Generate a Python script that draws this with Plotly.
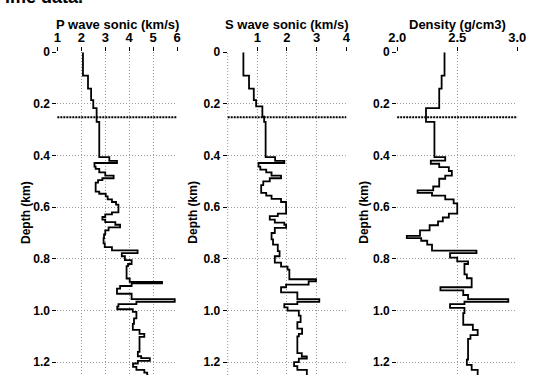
import plotly.graph_objects as go

# ---------------- data ----------------
p_depth = [0, 0.091, 0.141, 0.186, 0.217, 0.27, 0.406, 0.421, 0.429, 0.443, 0.452, 0.465, 0.478,
           0.488, 0.495, 0.505, 0.54, 0.548, 0.558, 0.57, 0.58, 0.59, 0.62, 0.628, 0.638, 0.648,
           0.658, 0.668, 0.678, 0.69, 0.705, 0.72, 0.74, 0.755, 0.767, 0.778, 0.79, 0.805, 0.82,
           0.828, 0.876, 0.889, 0.895, 0.905, 0.915, 0.935, 0.956, 0.966, 0.975, 0.985, 0.995,
           1.005, 1.03, 1.052, 1.075, 1.09, 1.102, 1.16, 1.177, 1.184, 1.195, 1.205, 1.218,
           1.23, 1.24, 1.25]
p_vel = [2.07, 2.28, 2.41, 2.5, 2.64, 2.75, 3.17, 3.49, 2.55, 2.6, 2.75, 3.0, 3.35,
         2.88, 2.7, 2.6, 2.75, 3.02, 3.1, 3.28, 3.45, 3.55, 3.28, 3.0, 2.88, 3.0,
         3.42, 3.62, 3.14, 3.0, 2.95, 2.93, 2.98, 3.28, 4.35, 3.69, 3.82, 4.1, 3.95,
         3.89, 4.02, 5.37, 4.1, 3.62, 3.49, 4.1, 5.9, 4.3, 3.55, 3.5, 4.15,
         4.3, 4.2, 4.15, 4.43, 4.63, 4.43, 4.36, 4.5, 4.86, 4.36, 4.16, 4.3,
         4.63, 4.75, 4.8]

s_depth = [0, 0.091, 0.141, 0.186, 0.21, 0.25, 0.27, 0.406, 0.421, 0.429, 0.443, 0.455, 0.465,
           0.478, 0.488, 0.5, 0.515, 0.545, 0.555, 0.568, 0.58, 0.625, 0.635, 0.648, 0.66,
           0.668, 0.68, 0.7, 0.725, 0.745, 0.77, 0.79, 0.815, 0.83, 0.842, 0.879, 0.887,
           0.9, 0.91, 0.93, 0.956, 0.966, 0.975, 0.988, 1.0, 1.02, 1.045, 1.07, 1.09, 1.1,
           1.165, 1.178, 1.186, 1.2, 1.215, 1.23, 1.25]
s_vel = [0.53, 0.72, 0.88, 0.96, 1.17, 1.23, 1.28, 1.6, 1.91, 1.04, 1.1, 1.3, 1.48,
         1.8, 1.42, 1.2, 1.13, 1.3, 1.48, 1.8, 1.97, 1.69, 1.42, 1.59, 1.91,
         1.97, 1.59, 1.48, 1.53, 1.69, 1.75, 1.59, 1.8, 2.02, 2.08, 2.98, 2.73,
         1.97, 1.8, 2.35, 3.09, 2.35, 1.91, 2.02, 2.4, 2.46, 2.35, 2.51, 2.4, 2.35,
         2.5, 2.67, 2.4, 2.24, 2.35, 2.67, 2.67]

d_depth = [0, 0.091, 0.141, 0.217, 0.27, 0.406, 0.42, 0.432, 0.445, 0.46, 0.478, 0.49, 0.52,
           0.535, 0.545, 0.555, 0.57, 0.585, 0.625, 0.64, 0.655, 0.67, 0.69, 0.711, 0.72,
           0.73, 0.745, 0.768, 0.778, 0.795, 0.81, 0.82, 0.86, 0.875, 0.91, 0.922, 0.94,
           0.956, 0.966, 0.975, 0.99, 1.01, 1.055, 1.075, 1.095, 1.11, 1.19, 1.21, 1.23, 1.25]
d_rho = [2.394, 2.37, 2.35, 2.24, 2.31, 2.4, 2.28, 2.35, 2.43, 2.455, 2.4, 2.35, 2.3,
         2.17, 2.29, 2.4, 2.47, 2.5, 2.43, 2.38, 2.34, 2.27, 2.19, 2.08, 2.2,
         2.25, 2.29, 2.66, 2.44, 2.5, 2.59, 2.56, 2.58, 2.62, 2.36, 2.55, 2.59,
         2.925, 2.56, 2.44, 2.56, 2.55, 2.63, 2.67, 2.61, 2.59, 2.58, 2.62, 2.67, 2.67]

p_ticks = [1, 2, 3, 4, 5, 6]
p_ticklabels = ["1", "2", "3", "4", "5", "6"]
s_ticks = [1, 2, 3, 4]
s_ticklabels = ["1", "2", "3", "4"]
d_ticks = [2.0, 2.5, 3.0]
d_ticklabels = ["2.0", "2.5", "3.0"]
depth_ticks = [0, 0.2, 0.4, 0.6, 0.8, 1.0, 1.2]
depth_ticklabels = ["0", "0.2", "0.4", "0.6", "0.8", "1.0", "1.2"]
marker_depth = 0.252

titles = ["P wave sonic (km/s)", "S wave sonic (km/s)", "Density (g/cm3)"]
ytitle = "Depth (km)"
top_title = "ime data."

# ---------------- figure ----------------
W, H = 535, 375
FONT = "Liberation Sans, Arial, sans-serif"
GRID = "#9a9a9a"
PX_PER_KM = 263.3
TOP = 46
fig = go.Figure()


def bold(lst):
    return [f"<b>{t}</b>" for t in lst]


def fx(px):
    return px / W


def fy(py):
    return 1 - py / H


series = [(p_vel, p_depth), (s_vel, s_depth), (d_rho, d_depth)]
xdomains = [(fx(50), fx(174)), (fx(226.3), fx(349)), (fx(401.7), fx(526))]
xranges = [[1, 6], [0, 4], [2, 3]]
ydom = [0, 1 - TOP / H]
ybottom = (H - TOP) / PX_PER_KM

for i, (xv, yv) in enumerate(series):
    n = "" if i == 0 else str(i + 1)
    fig.add_trace(go.Scatter(x=xv, y=yv, mode="lines",
                             line=dict(color="black", width=1.8, shape="vh"),
                             xaxis="x" + n, yaxis="y" + n, showlegend=False, hoverinfo="skip"))

common_x = dict(side="top", showline=False, zeroline=False, showgrid=True, gridcolor=GRID,
                griddash="1px,2px", gridwidth=1, ticks="outside", ticklen=4, tickcolor="black",
                tickmode="array",
                tickfont=dict(family=FONT, size=13, color="black"))
common_y = dict(autorange=False, range=[ybottom, 0], domain=ydom, showline=False, zeroline=False,
                showgrid=True, gridcolor=GRID, griddash="1px,2px", gridwidth=1,
                ticks="outside", ticklen=4, tickcolor="black", tickmode="array",
                tickvals=depth_ticks, ticktext=bold(depth_ticklabels),
                tickfont=dict(family=FONT, size=12, color="black"))

fig.update_layout(
    xaxis=dict(common_x, domain=xdomains[0], range=xranges[0], tickvals=p_ticks,
               ticktext=bold(p_ticklabels), anchor="y"),
    xaxis2=dict(common_x, domain=xdomains[1], range=xranges[1], tickvals=s_ticks,
                ticktext=bold(s_ticklabels), anchor="y2"),
    xaxis3=dict(common_x, domain=xdomains[2], range=xranges[2], tickvals=d_ticks,
                ticktext=bold(d_ticklabels), anchor="y3"),
    yaxis=dict(common_y, anchor="x"),
    yaxis2=dict(common_y, anchor="x2"),
    yaxis3=dict(common_y, anchor="x3"),
)

for i in range(3):
    n = "" if i == 0 else str(i + 1)
    fig.add_shape(type="line", xref=f"x{n} domain", yref="y" + n, x0=0, x1=1,
                  y0=marker_depth, y1=marker_depth,
                  line=dict(color="black", width=2, dash="2px,1px"))
# left edge grid of the S panel (0 is not a labelled tick)
fig.add_shape(type="line", xref="x2 domain", yref="y2 domain", x0=0, x1=0, y0=0, y1=1,
              line=dict(color=GRID, width=1, dash="1px,2px"), layer="below")

annots = []
for i in range(3):
    xc = (xdomains[i][0] + xdomains[i][1]) / 2
    annots.append(dict(text=f"<b>{titles[i]}</b>", x=xc, xref="paper", y=fy(17.5),
                       yref="paper", xanchor="center", yanchor="middle", showarrow=False,
                       font=dict(family=FONT, size=13, color="black")))
ytitle_x = [17.5, 190, 367]
for xp in ytitle_x:
    annots.append(dict(text=f"<b>{ytitle}</b>", x=fx(xp), xref="paper", y=fy(209),
                       yref="paper", xanchor="center", yanchor="middle", textangle=-90,
                       showarrow=False, font=dict(family=FONT, size=12, color="black")))
annots.append(dict(text=f"<b>{top_title}</b>", x=0, xref="paper", xshift=-6,
                   y=1 + 10 / H, yref="paper", xanchor="left", yanchor="middle",
                   showarrow=False, font=dict(family=FONT, size=18, color="black")))

fig.update_layout(annotations=annots, width=W, height=H, margin=dict(l=0, r=0, t=0, b=0),
                  plot_bgcolor="white", paper_bgcolor="white")

fig.write_html("out.html")
